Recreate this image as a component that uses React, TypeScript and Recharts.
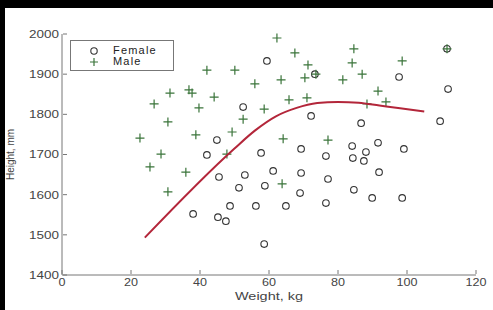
import { ScatterChart, Scatter, XAxis, YAxis, Legend } from 'recharts'

// Weight (kg) / Height (mm)
const femaleWeight = [59.4, 73.3, 97.7, 111.6, 111.9, 52.5, 72.2, 86.7, 109.6, 44.9, 69.3, 84.1, 88.1, 91.6, 99.1, 42.0, 57.7, 76.5, 84.3, 87.5, 45.5, 53.0, 61.2, 69.3, 77.1, 91.9, 51.3, 58.8, 69.0, 84.6, 89.9, 98.6, 48.7, 56.2, 64.9, 76.5, 38.0, 45.2, 47.5, 58.6]
const femaleHeight = [1933, 1900, 1893, 1963, 1863, 1818, 1796, 1778, 1783, 1736, 1714, 1721, 1706, 1729, 1714, 1699, 1704, 1696, 1691, 1684, 1644, 1649, 1659, 1654, 1639, 1656, 1617, 1622, 1604, 1612, 1592, 1592, 1572, 1572, 1572, 1579, 1552, 1544, 1534, 1477]

const maleWeight = [62.3, 67.5, 71.3, 73.6, 70.4, 63.5, 55.9, 50.1, 42.0, 84.6, 84.1, 81.4, 87.0, 98.6, 111.6, 91.6, 93.9, 88.4, 65.8, 71.0, 58.6, 52.5, 49.3, 64.1, 77.1, 31.3, 36.8, 37.7, 44.1, 26.7, 39.7, 30.7, 22.6, 38.8, 28.7, 47.8, 25.5, 35.9, 30.7, 63.8]
const maleHeight = [1990, 1953, 1923, 1900, 1891, 1886, 1876, 1910, 1910, 1963, 1928, 1886, 1900, 1933, 1963, 1858, 1831, 1826, 1836, 1841, 1813, 1788, 1756, 1739, 1736, 1853, 1861, 1853, 1843, 1826, 1816, 1781, 1741, 1749, 1701, 1701, 1669, 1656, 1607, 1627]

const curveWeight = [24, 50, 56, 62, 68, 74, 80, 86, 92, 98, 105]
const curveHeight = [1493, 1715, 1760, 1795, 1816, 1828, 1831, 1829, 1822, 1815, 1807]

const xTicks = [0, 20, 40, 60, 80, 100, 120]
const yTicks = [1400, 1500, 1600, 1700, 1800, 1900, 2000]

const females = femaleWeight.map((w, i) => ({ w, h: femaleHeight[i] }))
const males = maleWeight.map((w, i) => ({ w, h: maleHeight[i] }))
const curve = curveWeight.map((w, i) => ({ w, h: curveHeight[i] }))

const INK = '#444'
const AXIS = '#777'
const GREEN = '#3a743a'
const RED = '#b3263a'
const FONT = 'Liberation Sans, Arial, sans-serif'

const Circle = (p: any) => <circle cx={p.cx} cy={p.cy} r={3.3} fill="none" stroke="#333" strokeWidth={1.1} />
const Plus = (p: any) => (
  <path d={`M${p.cx - 4.5},${p.cy}H${p.cx + 4.5}M${p.cx},${p.cy - 4.5}V${p.cy + 4.5}`} stroke={GREEN} strokeWidth={1.2} />
)

const YTick = (p: any) => (
  <g>
    <line x1={p.x + 4} x2={p.x + 8} y1={p.y} y2={p.y} stroke={AXIS} />
    <text x={p.x} y={p.y} dy="0.35em" textAnchor="end" fontSize={11} fill={INK} fontFamily={FONT}
      textLength={30} lengthAdjust="spacingAndGlyphs">{p.payload.value}</text>
  </g>
)

const XTick = (p: any) => {
  const s = String(p.payload.value)
  return (
    <g>
      <line x1={p.x} x2={p.x} y1={p.y - 4} y2={p.y - 8} stroke={AXIS} />
      <text x={p.x} y={p.y} dy="0.75em" textAnchor="middle" fontSize={11} fill={INK} fontFamily={FONT}
        textLength={s.length * 7} lengthAdjust="spacingAndGlyphs">{s}</text>
    </g>
  )
}

const LegendBox = () => (
  <div style={{ width: 104, height: 31, border: `1px solid ${AXIS}`, background: '#fff', boxSizing: 'border-box', position: 'relative', fontFamily: FONT, fontSize: 11, color: '#222' }}>
    <svg width={30} height={30} style={{ position: 'absolute', left: 8, top: 0 }}>
      <circle cx={15} cy={10} r={3.2} fill="none" stroke="#333" strokeWidth={1.1} />
      <path d="M11,21H19M15,17V25" stroke={GREEN} strokeWidth={1.2} />
    </svg>
    <div style={{ position: 'absolute', left: 42, top: 3, letterSpacing: 1.2 }}>Female</div>
    <div style={{ position: 'absolute', left: 42, top: 14, letterSpacing: 1.2 }}>Male</div>
  </div>
)

export default function App() {
  return (
    <div style={{ position: 'fixed', left: 0, top: 0, width: 493, height: 310, background: '#fff' }}>
      <ScatterChart width={493} height={310} margin={{ top: 34, right: 17, bottom: 0, left: 0 }}>
        <XAxis
          type="number"
          dataKey="w"
          domain={[0, 120]}
          ticks={xTicks}
          height={35}
          tickSize={0}
          tickMargin={3}
          tick={<XTick />}
          axisLine={{ stroke: AXIS }}
          tickLine={false}
          label={(props: any) => {
            const vb = props.viewBox
            return (
              <text x={vb.x + vb.width / 2} y={vb.y + 25} textAnchor="middle" fontSize={11} fill={INK} fontFamily={FONT}
                textLength={68} lengthAdjust="spacingAndGlyphs">Weight, kg</text>
            )
          }}
        />
        <YAxis
          type="number"
          dataKey="h"
          domain={[1400, 2000]}
          ticks={yTicks}
          width={62}
          tickSize={0}
          tickMargin={3}
          tick={<YTick />}
          axisLine={{ stroke: AXIS }}
          tickLine={false}
          label={(props: any) => {
            const vb = props.viewBox
            const cy = vb.y + vb.height / 2
            return (
              <text x={10} y={cy} transform={`rotate(-90 10 ${cy})`} dy="0.35em" textAnchor="middle" fontSize={10} fill={INK} fontFamily={FONT}>Height, mm</text>
            )
          }}
        />
        <Legend
          layout="vertical"
          align="center"
          verticalAlign="middle"
          content={<LegendBox />}
          wrapperStyle={{ position: 'absolute', left: 70, top: 40, width: 104, height: 31 }}
        />
        <Scatter name="Female" data={females} shape={Circle} isAnimationActive={false} />
        <Scatter name="Male" data={males} shape={Plus} isAnimationActive={false} />
        <Scatter
          name="fit"
          data={curve}
          shape={() => <g />}
          line={{ stroke: RED, strokeWidth: 2 }}
          lineJointType="monotoneX"
          legendType="none"
          isAnimationActive={false}
        />
      </ScatterChart>
      <div style={{ position: 'absolute', left: 0, top: 0, width: 493, height: 8, background: '#000' }} />
      <div style={{ position: 'absolute', left: 0, top: 0, width: 5, height: 310, background: '#000' }} />
    </div>
  )
}
